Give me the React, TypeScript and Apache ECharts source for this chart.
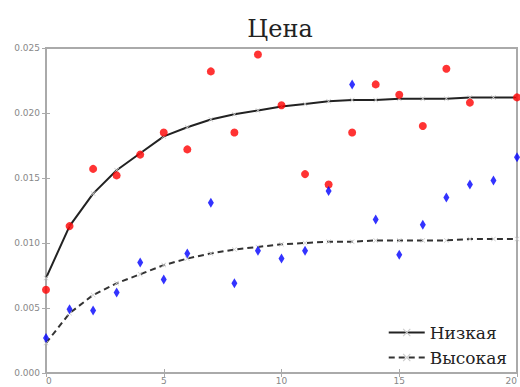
import React, { useEffect, useRef } from "react";
import * as echarts from "echarts";

const xs = [0, 1, 2, 3, 4, 5, 6, 7, 8, 9, 10, 11, 12, 13, 14, 15, 16, 17, 18, 19, 20];
const lowFit = [0.0073, 0.0113, 0.0138, 0.0156, 0.0169, 0.0182, 0.0189, 0.0195, 0.0199, 0.0202, 0.0205, 0.0207, 0.0209, 0.0210, 0.0210, 0.0211, 0.0211, 0.0211, 0.0212, 0.0212, 0.0212];
const highFit = [0.0023, 0.0046, 0.0060, 0.0069, 0.0076, 0.0083, 0.0088, 0.0092, 0.0095, 0.0097, 0.0099, 0.0100, 0.0101, 0.0101, 0.0102, 0.0102, 0.0102, 0.0102, 0.0103, 0.0103, 0.0103];
const redPoints: (number | null)[] = [0.0064, 0.0113, 0.0157, 0.0152, 0.0168, 0.0185, 0.0172, 0.0232, 0.0185, 0.0245, 0.0206, 0.0153, 0.0145, 0.0185, 0.0222, 0.0214, 0.0190, 0.0234, 0.0208, null, 0.0212];
const bluePoints = [0.0027, 0.0049, 0.0048, 0.0062, 0.0085, 0.0072, 0.0092, 0.0131, 0.0069, 0.0094, 0.0088, 0.0094, 0.0140, 0.0222, 0.0118, 0.0091, 0.0114, 0.0135, 0.0145, 0.0148, 0.0166];
const title = "Цена";
const legendNames = ["Низкая", "Высокая"];

const xMark = "path://M0,1 L1,0 L5,4 L9,0 L10,1 L6,5 L10,9 L9,10 L5,6 L1,10 L0,9 L4,5 Z";

export default function App() {
  const ref = useRef<HTMLDivElement>(null);
  useEffect(() => {
    if (!ref.current) return;
    const chart = echarts.init(ref.current, null, { renderer: "svg" });
    const pair = (arr: (number | null)[]) => arr.map((v, i) => [xs[i], v == null ? "-" : v]);
    const axisColor = "#aaaaaa";
    chart.setOption({
      animation: false,
      backgroundColor: "#ffffff",
      title: {
        text: title,
        left: 275,
        textAlign: "center",
        top: 12,
        textStyle: { fontFamily: "DejaVu Serif", fontSize: 24, fontWeight: "normal", color: "#222" },
      },
      legend: {
        data: legendNames,
        orient: "vertical",
        right: 8,
        top: 319,
        itemWidth: 36,
        itemHeight: 10,
        itemGap: 8,
        textStyle: { fontFamily: "DejaVu Serif", fontSize: 17, color: "#222" },
      },
      grid: {
        left: 46, right: 3, top: 48, bottom: 14,
        outerBoundsMode: "none", containLabel: false,
        show: true, borderColor: axisColor, borderWidth: 2,
      },
      xAxis: [
        {
          type: "value", min: 0, max: 20, interval: 5, position: "bottom",
          axisLine: { show: true, lineStyle: { color: axisColor, width: 2 } },
          axisTick: { show: true, inside: true, length: 4, lineStyle: { color: axisColor } },
          axisLabel: {
            fontSize: 9, color: "#888", margin: 3, fontFamily: "DejaVu Sans",
            alignMinLabel: "left", alignMaxLabel: "right",
          },
          splitLine: { show: false },
        },
        {
          type: "value", min: 0, max: 20, interval: 5, position: "top",
          axisLine: { show: true, lineStyle: { color: axisColor, width: 2 } },
          axisTick: { show: true, inside: true, length: 4, lineStyle: { color: axisColor } },
          axisLabel: { show: false },
          splitLine: { show: false },
        },
      ],
      yAxis: [
        {
          type: "value", min: 0, max: 0.025, interval: 0.005, position: "left",
          axisLine: { show: true, lineStyle: { color: axisColor, width: 2 } },
          axisTick: { show: true, inside: true, length: 4, lineStyle: { color: axisColor } },
          axisLabel: { fontSize: 9, color: "#888", margin: 6, fontFamily: "DejaVu Sans", formatter: (v: number) => v.toFixed(3) },
          splitLine: { show: false },
        },
        {
          type: "value", min: 0, max: 0.025, interval: 0.005, position: "right",
          axisLine: { show: true, lineStyle: { color: axisColor, width: 2 } },
          axisTick: { show: true, inside: true, length: 4, lineStyle: { color: axisColor } },
          axisLabel: { show: false },
          splitLine: { show: false },
        },
      ],
      series: [
        {
          name: legendNames[0], type: "line", data: pair(lowFit),
          symbol: xMark, symbolSize: 5, showSymbol: true,
          itemStyle: { color: "#cccccc" },
          lineStyle: { color: "#222222", width: 2, type: "solid" },
          z: 2,
        },
        {
          name: legendNames[1], type: "line", data: pair(highFit),
          symbol: xMark, symbolSize: 5, showSymbol: true,
          itemStyle: { color: "#cccccc" },
          lineStyle: { color: "#333333", width: 2, type: [6, 4] },
          z: 2,
        },
        {
          name: "red", type: "scatter", data: pair(redPoints),
          symbol: "circle", symbolSize: 8,
          itemStyle: { color: "#ff0000" }, z: 3,
        },
        {
          name: "blue", type: "scatter", data: pair(bluePoints),
          symbol: "diamond", symbolSize: [6, 10],
          itemStyle: { color: "#0000ff" }, z: 3,
        },
      ],
    });
    return () => chart.dispose();
  }, []);
  return <div ref={ref} style={{ width: 520, height: 387, position: "absolute", left: 0, top: 0 }} />;
}
